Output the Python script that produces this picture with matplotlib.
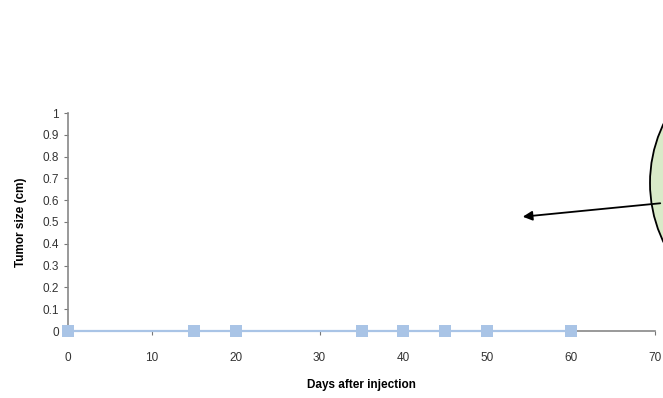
import matplotlib.pyplot as plt
from matplotlib.patches import Ellipse

days = [0, 15, 20, 35, 40, 45, 50, 60]
tumor_size = [0, 0, 0, 0, 0, 0, 0, 0]
x_ticks = [0, 10, 20, 30, 40, 50, 60, 70]
y_ticks = [0, 0.1, 0.2, 0.3, 0.4, 0.5, 0.6, 0.7, 0.8, 0.9, 1]
y_labels = ['0', '0.1', '0.2', '0.3', '0.4', '0.5', '0.6', '0.7', '0.8', '0.9', '1']

plt.rcParams['font.family'] = ['Liberation Sans', 'DejaVu Sans']

W, H = 663, 398
fig = plt.figure(figsize=(W / 100, H / 100), dpi=100, facecolor='white')
ax = fig.add_axes([68 / W, 67 / H, 587 / W, 218 / H])

ax.plot(days, tumor_size, '-s', color='#a9c4e6', markersize=8,
        linewidth=1.6, markeredgewidth=0, clip_on=False, zorder=3)

ax.set_xlim(0, 70)
ax.set_ylim(0, 1)
ax.set_xticks(x_ticks)
ax.set_yticks(y_ticks)
ax.set_yticklabels(y_labels)
ax.tick_params(axis='both', labelsize=8.5, colors='#777777', labelcolor='#333333',
               length=3, width=0.8)
ax.tick_params(axis='x', pad=12)
for s in ['top', 'right']:
    ax.spines[s].set_visible(False)
for s in ['left', 'bottom']:
    ax.spines[s].set_color('#888888')
    ax.spines[s].set_linewidth(1.2)

ax.set_xlabel('Days after injection', fontsize=8.5, fontweight='bold', labelpad=11)
ax.set_ylabel('Tumor size (cm)', fontsize=8.5, fontweight='bold', labelpad=11)

# green circle partly outside the figure on the right
circ = Ellipse((786 / W, 1 - 183 / H), 272 / W, 272 / H, transform=fig.transFigure,
               facecolor='#d9eac8', edgecolor='black', linewidth=1.3, clip_on=False)
fig.patches.append(circ)

# arrow pointing from the circle into the empty plot
fig.add_artist(plt.Annotation('', xy=(520 / W, 1 - 217 / H), xycoords='figure fraction',
                              xytext=(663 / W, 1 - 203 / H), textcoords='figure fraction',
                              arrowprops=dict(arrowstyle='-|>', color='black', lw=1.3,
                                              mutation_scale=14)))

fig.savefig('out.png', dpi=100, facecolor='white')
